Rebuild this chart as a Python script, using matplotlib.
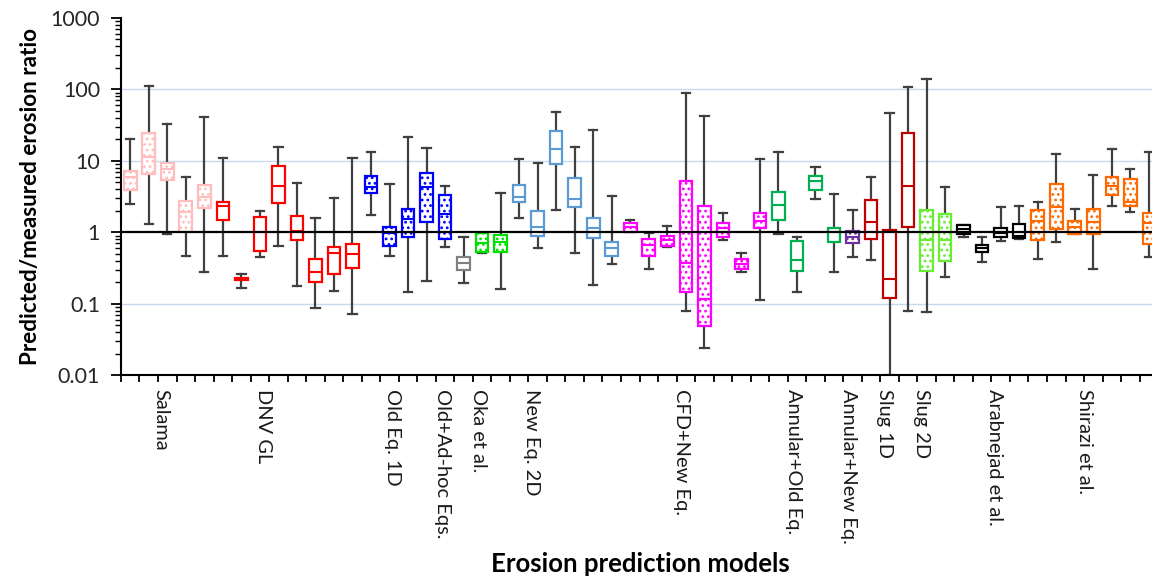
import numpy as np
import matplotlib.pyplot as plt
from matplotlib.ticker import FixedLocator, FixedFormatter, NullFormatter

plt.rcParams['font.family'] = ['Lato', 'DejaVu Sans']
plt.rcParams['hatch.linewidth'] = 1.2

# box statistics, one entry per box (left to right)
whis_hi = [20, 112, 33, 5.9, 41, 10.8, 0.26, 2.0, 15.6, 4.9, 1.57, 3.0, 10.8,
           13.4, 4.8, 21.7, 15.1, 4.5, 0.87, 0.99, 3.6,
           10.6, 9.2, 48.6, 15.6, 27, 3.2,
           1.49, 0.97, 1.24, 89.6, 42.7, 1.84, 0.51, 10.6,
           13.4, 0.87, 8.1, 3.4, 2.05, 5.9, 46.2, 109, 138, 4.3,
           1.27, 0.87, 2.24, 2.36,
           2.65, 12.6, 2.12, 6.3, 14.6, 7.6, 13.1]
q3 = [7.2, 24.7, 9.2, 2.7, 4.6, 2.68, 0.23, 1.62, 8.5, 1.69, 0.42, 0.63, 0.68,
      6.1, 1.2, 2.14, 6.7, 3.3, 0.45, 0.99, 0.92,
      4.6, 2.0, 26.4, 5.7, 1.57, 0.74,
      1.36, 0.81, 0.89, 5.2, 2.36, 1.36, 0.42, 1.84,
      3.7, 0.76, 6.1, 1.16, 1.05, 2.83, 1.08, 24.2, 2.05, 1.79,
      1.27, 0.66, 1.16, 1.31,
      2.05, 4.7, 1.44, 2.14, 5.9, 5.6, 1.88]
median = [5.9, 11.4, 7.6, 1.94, 3.1, 2.35, 0.222, 1.0, 4.4, 1.05, 0.276, 0.51, 0.49,
          4.3, 0.97, 1.53, 4.3, 1.79, 0.376, 0.72, 0.74,
          3.15, 1.2, 14.5, 2.9, 1.14, 0.60,
          1.2, 0.66, 0.78, 0.37, 0.116, 1.14, 0.36, 1.44,
          2.41, 0.41, 5.3, 1.0, 0.87, 1.38, 0.222, 4.4, 0.78, 0.78,
          1.1, 0.60, 0.99, 0.90,
          1.45, 2.28, 1.2, 1.38, 4.5, 2.68, 1.34]
q1 = [3.9, 6.5, 5.4, 1.0, 2.17, 1.49, 0.215, 0.55, 2.6, 0.78, 0.204, 0.264, 0.32,
      3.5, 0.65, 0.85, 1.41, 0.81, 0.30, 0.525, 0.525,
      2.68, 0.89, 8.9, 2.24, 0.82, 0.47,
      1.02, 0.47, 0.65, 0.148, 0.049, 0.87, 0.31, 1.14,
      1.49, 0.29, 3.9, 0.74, 0.72, 0.81, 0.119, 1.2, 0.29, 0.40,
      0.95, 0.525, 0.87, 0.82,
      0.78, 1.11, 0.94, 0.95, 3.3, 2.33, 0.68]
whis_lo = [2.5, 1.3, 0.95, 0.46, 0.28, 0.47, 0.166, 0.45, 0.65, 0.177, 0.087, 0.152, 0.071,
           1.75, 0.46, 0.148, 0.208, 0.62, 0.197, 0.52, 0.161,
           1.57, 0.61, 2.05, 0.52, 0.183, 0.36,
           1.0, 0.31, 0.63, 0.080, 0.0243, 0.78, 0.276, 0.113,
           0.95, 0.145, 2.9, 0.276, 0.45, 0.41, 0.01, 0.080, 0.076, 0.235,
           0.87, 0.38, 0.76, 0.81,
           0.42, 0.74, 0.94, 0.31, 2.36, 1.94, 0.45]

model_names = ['Salama', 'DNV GL', 'Old Eq. 1D', 'Old+Ad-hoc Eqs.', 'Oka et al.',
               'New Eq. 2D', 'CFD+New Eq.', 'Annular+Old Eq.', 'Annular+New Eq.',
               'Slug 1D', 'Slug 2D', 'Arabnejad et al.', 'Shirazi et al.']
label_pos = [1.66, 7.17, 14.17, 16.87, 18.83, 21.68, 29.78, 35.8, 38.77,
             40.71, 42.73, 46.65, 51.55]

# (colour, dotted fill, number of boxes) for each run of boxes
groups = [('#FFBDBD', True, 5), ('#FF0000', False, 8), ('#0000FF', True, 5),
          ('#808080', False, 1), ('#00E000', True, 2), ('#5B9BD5', False, 6),
          ('#FF00FF', True, 8), ('#00B050', False, 4), ('#7030A0', True, 1),
          ('#C00000', False, 3), ('#66EE33', True, 2), ('#000000', False, 4),
          ('#FF6A00', True, 7)]

colors, dotted = [], []
for c, d, n in groups:
    colors += [c] * n
    dotted += [d] * n

stats = []
for i in range(len(median)):
    stats.append({'med': median[i], 'q1': q1[i], 'q3': q3[i],
                  'whislo': whis_lo[i], 'whishi': whis_hi[i], 'fliers': []})

fig = plt.figure(figsize=(11.52, 5.79), dpi=100)
ax = fig.add_axes([0.105, 0.3518, 0.9003, 0.6174])

n = len(stats)
res = ax.bxp(stats, positions=np.arange(n), widths=0.68, patch_artist=True,
             showfliers=False, capwidths=0.45,
             whiskerprops=dict(color='#404040', lw=1.6),
             capprops=dict(color='#404040', lw=1.6),
             medianprops=dict(lw=1.5), boxprops=dict(lw=1.6),
             manage_ticks=False)
for i, box in enumerate(res['boxes']):
    box.set_facecolor('white')
    box.set_edgecolor(colors[i])
    box.set_zorder(3)
    if dotted[i]:
        box.set_hatch('...')
    res['medians'][i].set_color(colors[i])
    res['medians'][i].set_zorder(4)

for lev in [0.1, 10, 100]:
    ax.axhline(lev, color='#C6DBF0', lw=1, zorder=0)
ax.axhline(1, color='black', lw=1.6, zorder=5)

ax.set_yscale('log')
ax.set_ylim(0.01, 1000)
ax.set_xlim(-0.5, n - 0.5)
ax.yaxis.set_major_locator(FixedLocator([0.01, 0.1, 1, 10, 100, 1000]))
ax.yaxis.set_major_formatter(FixedFormatter(['0.01', '0.1', '1', '10', '100', '1000']))
ax.yaxis.set_minor_formatter(NullFormatter())
ax.tick_params(axis='y', which='major', length=7, width=1.3, labelsize=15.5, pad=8,
               labelcolor='#262626')
ax.tick_params(axis='y', which='minor', length=4, width=1.0)

ax.set_xticks(label_pos)
ax.set_xticklabels(model_names, rotation=270, fontsize=14.4, va='top', ha='center',
                   color='#1a1a1a')
ax.set_xticks(np.arange(n + 1) - 0.5, minor=True)
ax.tick_params(axis='x', which='major', length=0, pad=10)
ax.tick_params(axis='x', which='minor', length=5, width=1.3)

for s in ['top', 'right']:
    ax.spines[s].set_visible(False)
for s in ['left', 'bottom']:
    ax.spines[s].set_linewidth(1.5)

ax.set_ylabel('Predicted/measured erosion ratio', fontsize=16.2, fontweight='bold', labelpad=7)
fig.text(0.556, 0.012, 'Erosion prediction models', fontsize=18.5, fontweight='bold', ha='center')

fig.savefig('out.png', dpi=100)
